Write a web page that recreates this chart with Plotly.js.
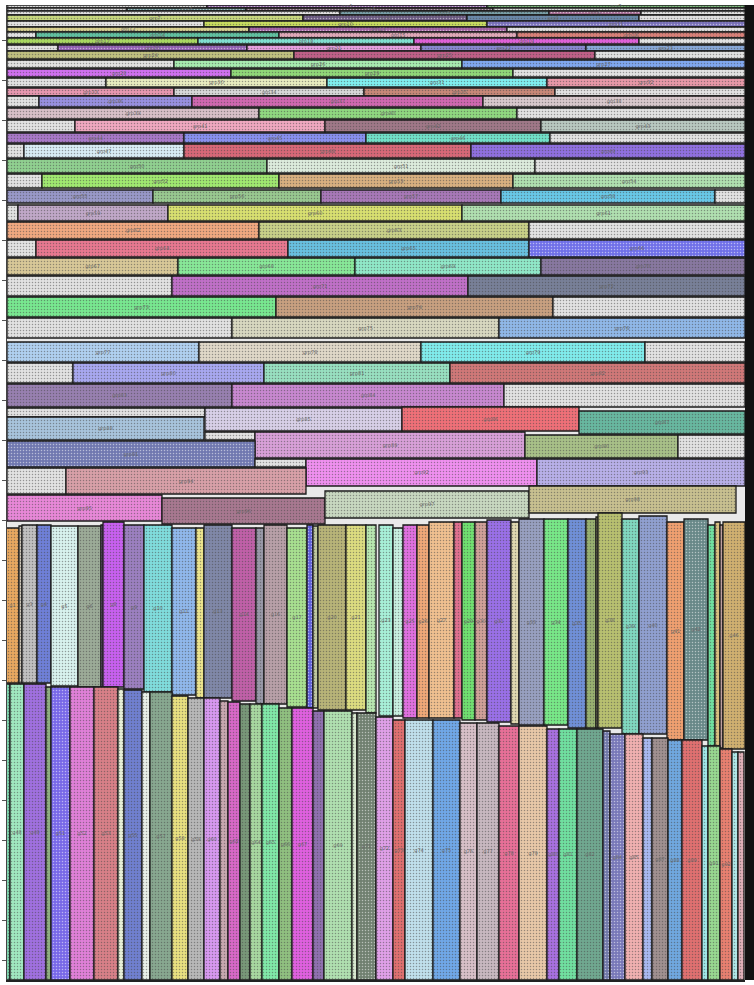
<!DOCTYPE html>
<html>
<head>
<meta charset="utf-8">
<script src="https://cdn.plot.ly/plotly-3.0.1.min.js"></script>
<style>html,body{margin:0;padding:0;background:#fff;}#chart{width:754px;height:985px;}</style>
</head>
<body>
<div id="chart"></div>
<script>
// ---------- horizontal band: regular rows ----------
const rowY0 = [5,8,11,15,21,27,32,38,45,51,60,69,78,88,96,108,120,133,144,159,174,190,205,222,240,258,276,297,318,342,363,384];
const rowY1 = [8,11,15,21,27,32,38,44,51,59,68,77,87,96,107,119,132,143,158,173,188,203,221,239,257,275,296,317,338,362,383,407];
const rowEdges = [
  [7,207,487,745],
  [7,127,246,493,745],
  [7,340,549,641,745],
  [7,303,467,639,745],
  [7,204,487,745],
  [7,249,507,745],
  [7,36,279,517,745],
  [7,198,414,639,745],
  [7,58,247,421,586,745],
  [7,294,595,745],
  [7,174,462,745],
  [7,231,513,745],
  [7,106,327,547,745],
  [7,174,364,555,745],
  [7,39,192,483,745],
  [7,259,517,745],
  [7,75,325,541,745],
  [7,184,366,550,745],
  [7,24,184,471,745],
  [7,267,535,745],
  [7,42,279,513,745],
  [7,153,321,501,715,745],
  [7,18,168,462,745],
  [7,259,529,745],
  [7,36,288,529,745],
  [7,178,355,541,745],
  [7,172,468,745],
  [7,276,553,745],
  [7,232,499,745],
  [7,199,421,645,745],
  [7,73,264,450,745],
  [7,232,504,745]
];
// ---------- horizontal band: offset segments ----------
const segY0 = [408,408,407,411,417,432,432,435,435,441,459,459,459,468,468,495,498,491,486];
const segY1 = [417,431,431,434,440,440,458,458,458,467,467,486,486,494,494,521,524,518,513];
const segX0 = [7,205,402,579,7,205,255,525,678,7,255,306,537,7,66,7,162,325,529];
const segX1 = [205,402,579,745,204,255,525,678,745,255,306,537,745,66,306,162,325,529,736];
// ---------- vertical band: upper bars ----------
const upX0 = [6,19,22,37,51,78,101,103,124,144,172,196,204,232,256,264,287,307,313,318,346,366,379,393,403,417,429,454,462,475,487,511,519,544,568,586,596,598,622,639,667,684,708,715,720,723];
const upX1 = [19,22,37,51,78,101,103,124,144,172,196,204,232,256,264,287,307,313,318,346,366,376,393,403,417,429,454,462,475,487,511,519,544,568,586,596,598,622,639,667,684,708,715,720,723,745];
const upTop = [528,526,525,525,526,526,525,522,525,525,528,528,525,528,528,525,528,525,526,525,525,525,525,528,525,525,522,522,522,522,520,522,519,519,519,519,517,513,519,516,522,519,525,522,525,522];
const upBot = [683,683,683,683,686,687,687,687,689,692,695,698,698,701,704,704,707,708,708,710,710,713,716,716,718,718,718,718,720,720,722,724,725,725,728,728,728,728,734,734,740,740,746,746,748,749];
// ---------- vertical band: lower bars (base at 980) ----------
const loX0 = [6,10,24,46,51,70,94,118,124,142,150,172,188,204,220,228,240,250,262,279,292,313,324,352,357,376,393,405,433,460,477,499,519,547,559,577,603,610,625,643,652,668,682,702,708,720,732,738];
const loX1 = [10,24,46,51,70,94,118,124,142,150,172,188,204,220,228,240,250,262,279,292,313,324,352,357,376,393,405,433,460,477,499,519,547,559,577,603,610,625,643,652,668,682,702,708,720,732,738,744];
const loTop = [684,684,684,687,687,687,687,689,690,692,692,696,698,698,701,702,704,704,704,708,708,711,711,713,713,717,720,720,720,723,723,726,726,729,729,729,731,734,734,738,738,740,740,746,746,749,752,752];
const loBase = 980;

// ---------- styles ----------
const G = '#e2e2e2';
const rowColors = [
  [G,'#8a60a0','#80c080'],
  [G,'#608888','#705868',G],
  [G,'#78a0a8','#a06890',G],
  ['#c8d880','#6a5a80','#6a88a8',G],
  [G,'#c8dc60','#7870b8'],
  ['#d8d090','#a060a0',G],
  [G,'#60c0a0','#e0a8b8','#d88078'],
  ['#a8d860','#80e0d0','#e060d8',G],
  [G,'#9060b0','#e8a0e0','#8888d0','#88a8d8'],
  ['#c0c080','#c06088',G],
  [G,'#a8ecb0','#80a8f0'],
  ['#d070f0','#90d878',G],
  [G,'#e8ecc0','#80f0f0','#e898a8'],
  ['#e898b0','#d8d8d8','#c88878',G],
  [G,'#9890e0','#d068b0','#d8c8cc'],
  ['#d8c0c8','#90d880',G],
  [G,'#f0a8c0','#a07888','#b8c8c0'],
  ['#a878c8','#8890f0','#70e0c8',G],
  [G,'#d8ecf4','#d86878','#9070e0'],
  ['#90d090','#dcecdc',G],
  [G,'#a0e870','#d8b080','#b0e0b0'],
  ['#9898c8','#98c890','#a878b8','#68c8e8',G],
  [G,'#c0a8c8','#d8e070','#b0e0b0'],
  ['#f0a880','#c8d088',G],
  [G,'#e87890','#68c0e0','#7070e8'],
  ['#d8c898','#88e898','#90e8c8','#8878a0'],
  [G,'#c070c8','#788098'],
  ['#78e890','#c8a080',G],
  [G,'#d8d8c0','#90b8e8'],
  ['#b0d0f0','#e0d8c8','#80ecec',G],
  [G,'#a8a8f0','#98e0c0','#d07878'],
  ['#9880b0','#c888d0',G]
];
const segColors = [G,'#d8d0e8','#f07078','#68b8a0','#a8c4dc',G,'#d8a0d8','#a8c088',G,'#7078b0',G,'#f090f0','#b8b0e8',G,'#d8a0a8','#e888d8','#a87890','#c8d8c0','#c8c090'];
const upColors = ['#e8a860','#d8d0c0','#c0c0c0','#6f80d8','#d8f2ee','#9cab98','#a878c0','#c860f0','#9c80c0','#80dcdc','#90b8ec','#ece48c','#8088a8','#c060a8','#9898a8','#b8a0a8','#a8e090','#6060d8','#c0c8a0','#b8b478','#dcdc80','#b8e8b0','#a8f0d8','#c8f0e0','#e070e0','#f0a878','#f0c090','#e07090','#70e070','#d0a098','#9a70e8','#e0d8b0','#98a0c0','#78e888','#7090d8','#98b070','#b0b080','#b8c070','#80d8c0','#90a0d0','#f0a070','#688888','#70e0a0','#d8c080','#c0a0a0','#d0b070'];
const loColors = ['#80d8b0','#a0e8c0','#a070e0','#90b080','#7868e8','#e080d8','#d88088','#e8f0d8','#7080d0','#e8f0e8','#88a890','#e8e080','#b8b8b8','#d898f0','#c8a8b0','#d868c8','#789878','#a8d8a0','#80e8a8','#90c080','#e060e0','#9070b0','#b0e0b0','#d8e8d0','#708070','#e0a0e8','#e07070','#c0e0ec','#70a8e8','#d8c0c8','#c8b8c0','#e87098','#e8c8a8','#a870e0','#70e0a0','#70a890','#7078a8','#7878b8','#f0b0b0','#a8b8f0','#a09090','#70a8e0','#e07070','#a0e8e8','#98d890','#e88070','#b0e8e8','#e0b0b8'];

// ---------- build traces ----------
const hb=[],hx=[],hy=[],hw=[],hc=[],ht=[];
let n=1;
rowEdges.forEach((ed,i)=>{
  for(let k=0;k<ed.length-1;k++){
    hb.push(ed[k]); hx.push(ed[k+1]-ed[k]);
    hy.push((rowY0[i]+rowY1[i])/2); hw.push(rowY1[i]-rowY0[i]);
    const c=rowColors[i][k]; hc.push(c); ht.push(c===G?'':'grp'+(n++));
  }
});
segX0.forEach((x0,i)=>{
  hb.push(x0); hx.push(segX1[i]-x0);
  hy.push((segY0[i]+segY1[i])/2); hw.push(segY1[i]-segY0[i]);
  const c=segColors[i]; hc.push(c); ht.push(c===G?'':'grp'+(n++));
});
// vertical labels: only on bars wide enough to hold them
const upText = upX0.map((v,i)=> (upX1[i]-v) >= 12 ? 'g'+(i+1) : '');
const loText = loX0.map((v,i)=> (loX1[i]-v) >= 12 ? 'g'+(i+47) : '');
const line={color:'#1c1c1c',width:1.3};
const pat={shape:'.',fillmode:'overlay',fgcolor:'rgba(255,255,255,0.16)',size:3,solidity:0.2};
const tf={family:'DejaVu Sans',size:5,color:'#666'};
const common={textposition:'inside',insidetextanchor:'middle',textangle:0,constraintext:'none',cliponaxis:false,
  textfont:tf,hoverinfo:'skip',showlegend:false};
const traces=[
 Object.assign({type:'bar',orientation:'h',base:hb,x:hx,y:hy,width:hw,text:ht,
  marker:{color:hc,line:line,pattern:pat}},common),
 Object.assign({type:'bar',x:upX0.map((v,i)=>(v+upX1[i])/2),width:upX0.map((v,i)=>upX1[i]-v),base:upBot,y:upTop.map((v,i)=>v-upBot[i]),
  text:upText,
  marker:{color:upColors,line:line,pattern:pat}},common),
 Object.assign({type:'bar',x:loX0.map((v,i)=>(v+loX1[i])/2),width:loX0.map((v,i)=>loX1[i]-v),base:loX0.map(()=>loBase),y:loTop.map(v=>v-loBase),
  text:loText,
  marker:{color:loColors,line:line,pattern:pat}},common)
];
const layout={
  width:754,height:985,margin:{l:7,r:9,t:5,b:5},
  paper_bgcolor:'#ffffff',plot_bgcolor:'#e9e9e9',barmode:'overlay',
  xaxis:{range:[7,745],showgrid:false,zeroline:false,showticklabels:false,showline:true,linecolor:'#222',linewidth:2},
  yaxis:{range:[980,5],showgrid:false,zeroline:false,showticklabels:false,showline:true,linecolor:'#444',linewidth:1,ticks:'outside',ticklen:4,tickcolor:'#555',dtick:40},
  shapes:[{type:'rect',xref:'paper',yref:'paper',x0:1,x1:1.02,y0:0,y1:1,fillcolor:'#111',line:{width:0}}]
};
Plotly.newPlot('chart',traces,layout,{displayModeBar:false,staticPlot:true});
</script>
</body>
</html>
